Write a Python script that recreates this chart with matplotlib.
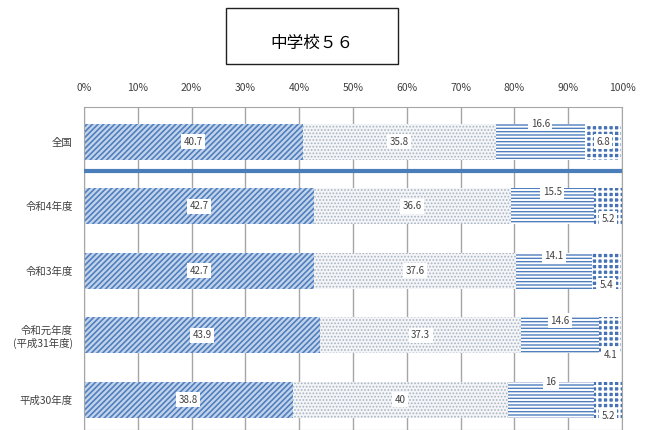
import matplotlib
matplotlib.use("Agg")
import matplotlib.pyplot as plt
from matplotlib.patches import Rectangle
import numpy as np

plt.rcParams['font.family'] = ['Noto Sans CJK JP', 'DejaVu Sans']

# データ
categories = ['全国', '令和4年度', '令和3年度', '令和元年度\n(平成31年度)', '平成30年度']
series1 = [40.7, 42.7, 42.7, 43.9, 38.8]
series2 = [35.8, 36.6, 37.6, 37.3, 40]
series3 = [16.6, 15.5, 14.1, 14.6, 16]
series4 = [6.8, 5.2, 5.4, 4.1, 5.2]
xticks = [0, 10, 20, 30, 40, 50, 60, 70, 80, 90, 100]
title = '中学校５６'

series = [series1, series2, series3, series4]

# 各系列の見た目 (塗り, ハッチ色, ハッチ, 線幅)
estilos = [
    ('#c3d4ea', '#4f7fbf', '//////', 1.2),
    ('#f3f5f8', '#a9b3c0', '.....', 0.8),
    ('#ffffff', '#4f7fbf', '-----', 1.0),
    ('#4472b4', '#ffffff', '+++', 1.6),
]
# ラベルの縦位置 (バー高さに対する割合)
offsets = [
    [0, 0, 0, 0, 0],
    [0, 0, 0, 0, 0],
    [-0.5, -0.4, -0.4, -0.4, -0.5],
    [0, 0.35, 0.4, 0.55, 0.45],
]

fig = plt.figure(figsize=(6.49, 4.30), dpi=100)
ax = fig.add_axes([84 / 649, 0.0, (622 - 84) / 649, 1 - 107 / 430])

y = np.arange(len(categories))
h = 0.56
left = np.zeros(len(categories))
for vals, (fc, hc, hatch, hlw), offs in zip(series, estilos, offsets):
    with plt.rc_context({'hatch.linewidth': hlw}):
        ax.barh(y, vals, left=left, height=h, color=fc, edgecolor=hc,
                hatch=hatch, linewidth=0, zorder=2)
    for i, v in enumerate(vals):
        ax.text(left[i] + v / 2, y[i] + offs[i] * h, f'{v:g}', ha='center',
                va='center', fontsize=7, color='#404040', zorder=4,
                bbox=dict(boxstyle='square,pad=0.25', fc='white', ec='none'))
    left += np.array(vals)

# 全国と各年度の区切り線
ax.plot([0, 100], [0.46, 0.46], color='#4a7ebb', lw=3, zorder=3,
        solid_capstyle='butt')

ax.set_xlim(0, 100)
ax.set_ylim(4.47, -0.54)
ax.set_xticks(xticks)
ax.set_xticklabels([f'{t}%' for t in xticks], fontsize=7.5, color='#404040')
ax.xaxis.tick_top()
ax.tick_params(axis='x', length=0, pad=10)
ax.set_yticks(y)
ax.set_yticklabels(categories, fontsize=7.5, color='#404040')
ax.tick_params(axis='y', length=0, pad=8)
ax.grid(axis='x', color='#a6a6a6', lw=1)
ax.set_axisbelow(True)
for s in ax.spines.values():
    s.set_color('#a6a6a6')

# タイトルの枠
fig.patches.append(Rectangle((226 / 649, 1 - 64 / 430), 172 / 649, 56 / 430,
                             transform=fig.transFigure, fill=False,
                             ec='#202020', lw=1))
fig.text(312 / 649, 1 - 43 / 430, title, ha='center', va='center',
         fontsize=12)

fig.savefig('out.png', dpi=100)
